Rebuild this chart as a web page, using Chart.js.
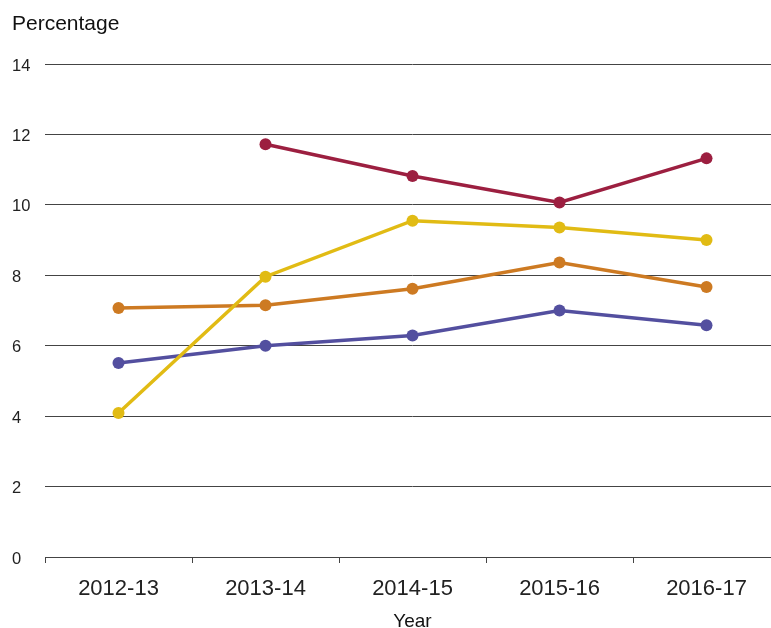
<!DOCTYPE html>
<html>
<head>
<meta charset="utf-8">
<script src="https://cdn.jsdelivr.net/npm/chart.js@4/dist/chart.umd.min.js"></script>
<style>
  html, body { margin: 0; padding: 0; background: #fff; overflow: hidden; }
  #wrap { width: 786px; height: 628px; }
</style>
</head>
<body>
<div id="wrap"><canvas id="c" width="786" height="628"></canvas></div>
<script>
const categories = ["2012-13", "2013-14", "2014-15", "2015-16", "2016-17"];
const seriesRed    = [null, 11.72, 10.82, 10.07, 11.32];
const seriesYellow = [4.09, 7.96, 9.55, 9.36, 9.00];
const seriesOrange = [7.07, 7.15, 7.62, 8.36, 7.67];
const seriesBlue   = [5.51, 6.00, 6.29, 7.00, 6.58];
const yTicks = [0, 2, 4, 6, 8, 10, 12, 14];

const FONT = '"Liberation Sans", Arial, Helvetica, sans-serif';

function ds(data, color) {
  return {
    data: data,
    borderColor: color,
    backgroundColor: color,
    borderWidth: 3.5,
    pointRadius: 6,
    pointHoverRadius: 6,
    pointBorderWidth: 0,
    pointBackgroundColor: color,
    tension: 0,
    fill: false
  };
}

new Chart(document.getElementById('c'), {
  type: 'line',
  data: {
    labels: categories,
    datasets: [
      ds(seriesRed, '#9C1F40'),
      ds(seriesYellow, '#E1BB14'),
      ds(seriesOrange, '#CD7A22'),
      ds(seriesBlue, '#534F9F')
    ]
  },
  options: {
    responsive: false,
    animation: false,
    layout: { padding: { left: 12, right: 0, top: 0, bottom: 0 } },
    plugins: {
      legend: { display: false },
      tooltip: { enabled: false },
      title: {
        display: true,
        text: 'Percentage',
        align: 'start',
        color: '#111',
        font: { family: FONT, size: 21, weight: 'normal', lineHeight: 1.2 },
        padding: { top: 12, bottom: 26.8 }
      }
    },
    scales: {
      x: {
        type: 'category',
        offset: true,
        afterFit: function(scale) { scale.height = 71; },
        grid: {
          display: true,
          offset: true,
          drawOnChartArea: false,
          drawTicks: true,
          tickLength: 6,
          color: '#444',
          lineWidth: 1
        },
        border: { display: true, color: '#444', width: 1 },
        ticks: {
          color: '#222',
          padding: 15,
          maxRotation: 0,
          font: { family: FONT, size: 22, lineHeight: 1 }
        },
        title: {
          display: true,
          text: 'Year',
          color: '#111',
          font: { family: FONT, size: 19, lineHeight: 1 },
          padding: { top: 0, bottom: -3 }
        }
      },
      y: {
        min: 0,
        max: 14,
        afterFit: function(scale) { scale.width = 33; },
        afterBuildTicks: function(scale) { scale.ticks = yTicks.map(v => ({ value: v })); },
        grid: {
          display: true,
          drawTicks: false,
          color: '#444',
          lineWidth: 1
        },
        border: { display: false },
        ticks: {
          crossAlign: 'far',
          color: '#222',
          padding: 0,
          labelOffset: 2,
          font: { family: FONT, size: 16.5 }
        }
      }
    }
  }
});
</script>
</body>
</html>
